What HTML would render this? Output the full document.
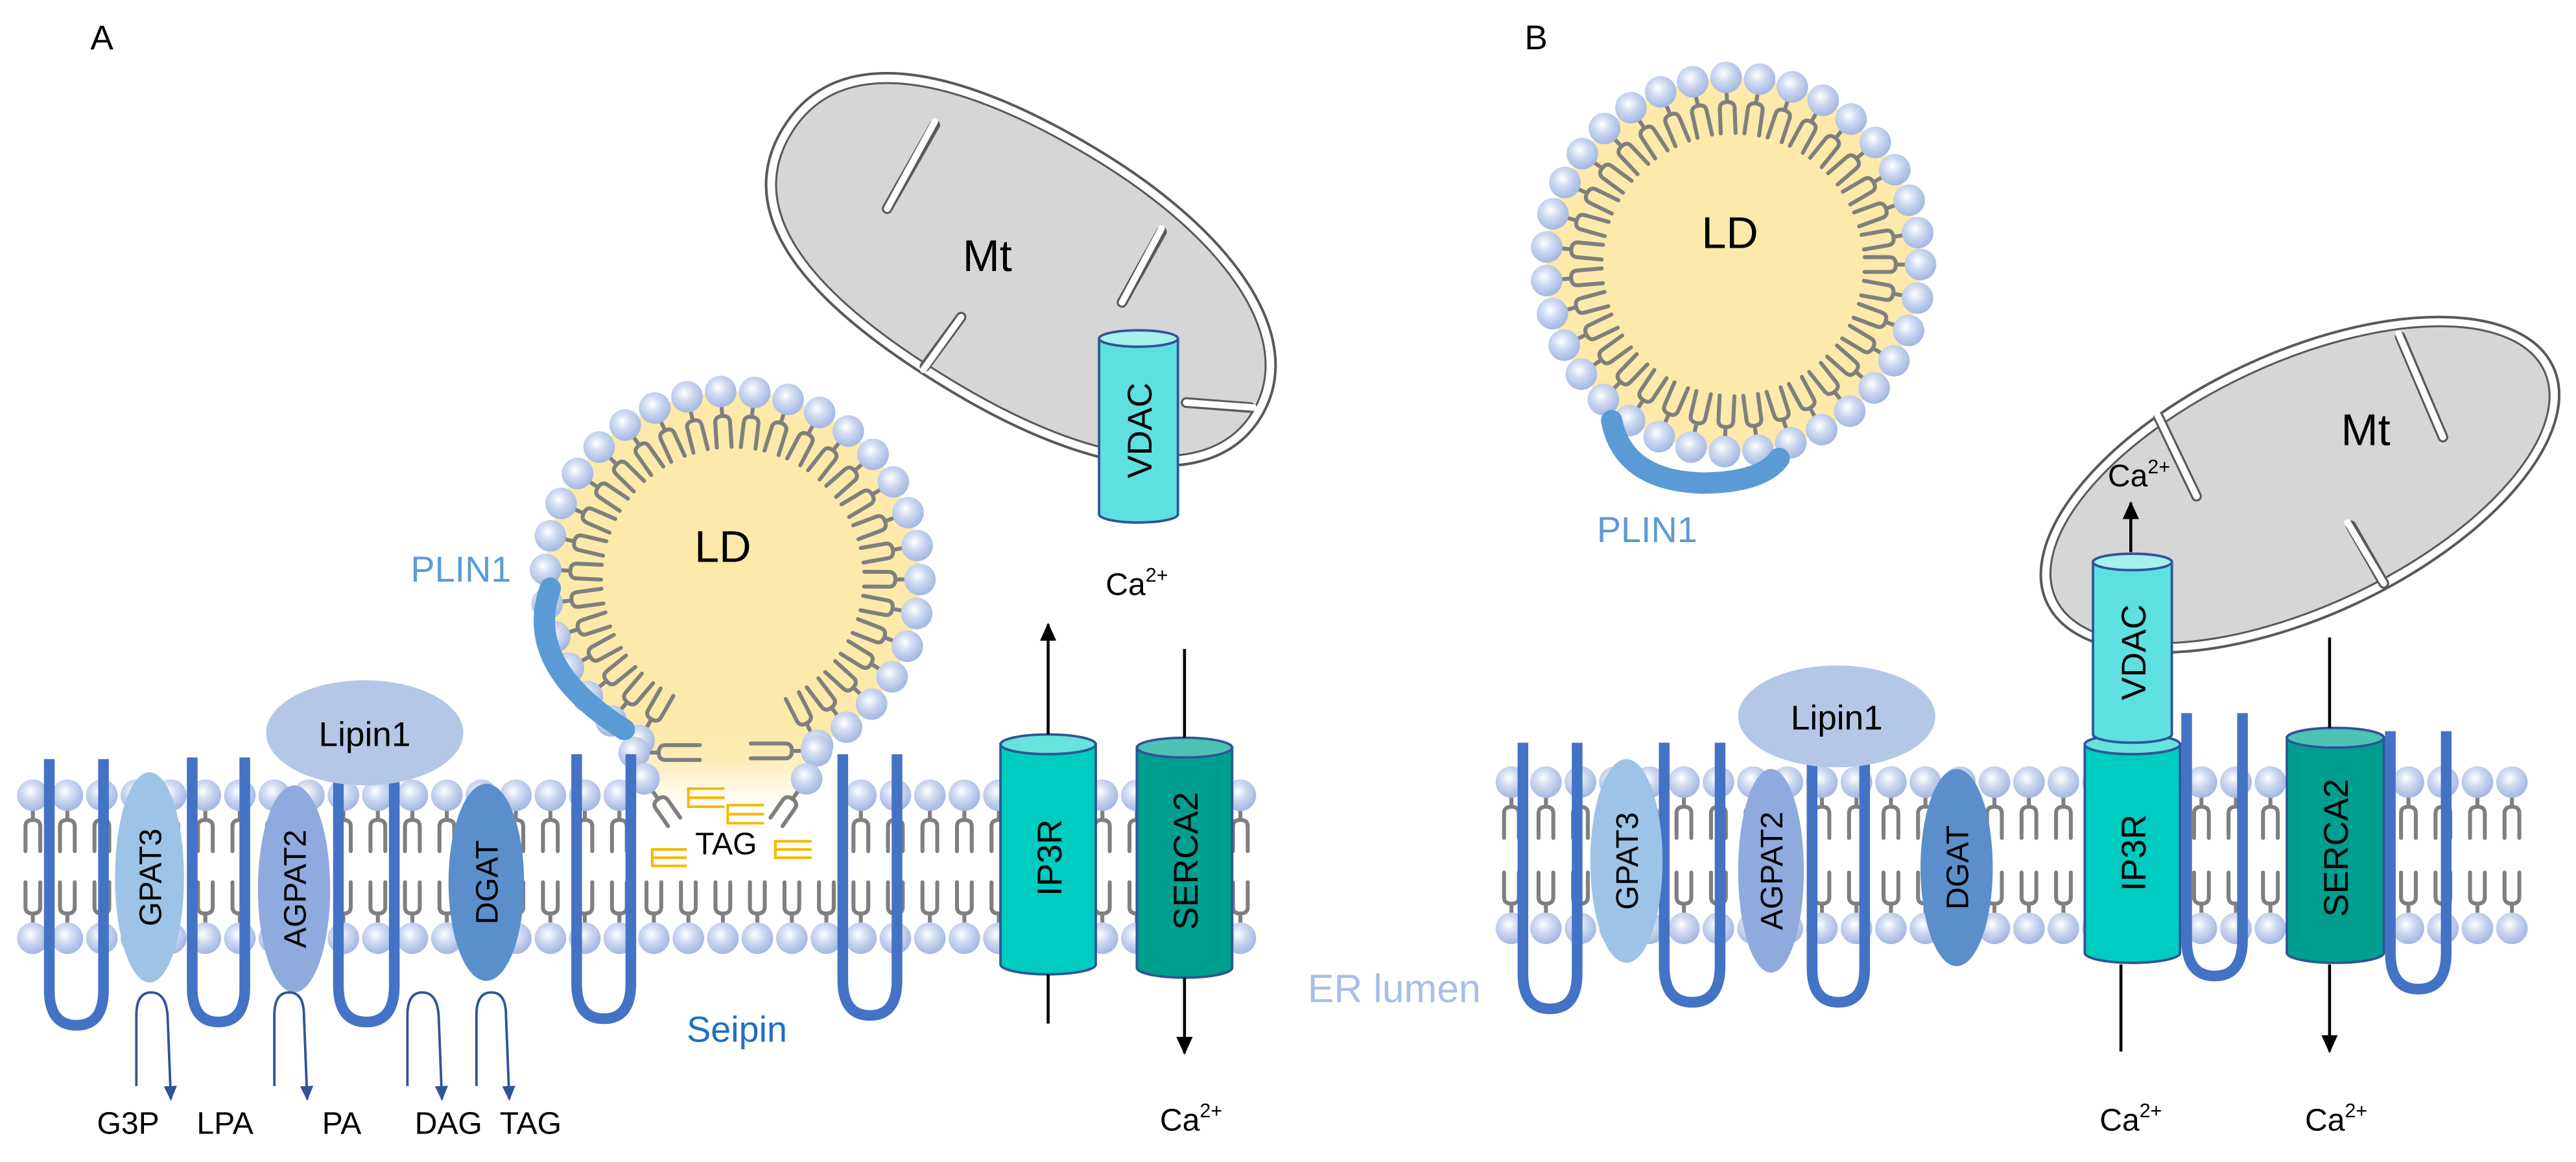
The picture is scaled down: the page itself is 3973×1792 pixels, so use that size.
<!DOCTYPE html>
<html><head><meta charset="utf-8"><style>
html,body{margin:0;padding:0;background:#fff;}
svg{display:block;}
text{font-family:"Liberation Sans",Arial,sans-serif;}
</style></head><body>
<svg id="s" xmlns="http://www.w3.org/2000/svg" width="3973" height="1792" viewBox="0 0 1568 707.2">
<defs>
<radialGradient id="hg" cx="42%" cy="38%" r="60%">
<stop offset="0" stop-color="#ffffff"/><stop offset="0.45" stop-color="#cfdaf1"/><stop offset="1" stop-color="#a6b9e3"/>
</radialGradient>
<linearGradient id="neck" x1="0" y1="0" x2="0" y2="1">
<stop offset="0" stop-color="#fde9a9"/><stop offset="0.5" stop-color="#fdedbb" stop-opacity="0.8"/><stop offset="1" stop-color="#fff" stop-opacity="0"/>
</linearGradient>
<marker id="ab" markerWidth="9" markerHeight="8" refX="8" refY="4" orient="auto" markerUnits="userSpaceOnUse" viewBox="0 0 9 8"><path d="M0,0 L9,4 L0,8 Z" fill="#2f5597"/></marker>
<marker id="ak" markerWidth="11" markerHeight="10" refX="10" refY="5" orient="auto" markerUnits="userSpaceOnUse" viewBox="0 0 11 10"><path d="M0,0 L11,5 L0,10 Z" fill="#000"/></marker>
</defs>

<!-- Mitochondria -->
<g transform="rotate(31 622 166)">
<path d="M452,166 C452,100 530,78 622,78 C720,78 792,110 792,166 C792,222 720,250 622,250 C530,250 452,232 452,166 Z" fill="#fff" stroke="#595959" stroke-width="1.6"/>
<path d="M458,166 C458,105 532,84 622,84 C716,84 786,114 786,166 C786,218 716,244 622,244 C532,244 458,227 458,166 Z" fill="#d6d6d6" stroke="#595959" stroke-width="1.2"/>
</g>
<g fill="none" stroke-linecap="round">
<g stroke="#595959" stroke-width="6.5">
<path d="M569,76 L540,127"/><path d="M707,141 L683,184"/><path d="M563,223 L585,193"/><path d="M761,248 L722,245"/>
</g>
<g stroke="#fff" stroke-width="4">
<path d="M569,74 L540,127"/><path d="M707,139 L683,184"/><path d="M562,225 L585,193"/><path d="M763,248 L722,245"/>
</g>
</g>
<g transform="rotate(-25 1400 295)">
<ellipse cx="1400" cy="295" rx="170" ry="80" fill="#fff" stroke="#595959" stroke-width="1.6"/>
<ellipse cx="1400" cy="295" rx="164" ry="74" fill="#d6d6d6" stroke="#595959" stroke-width="1.2"/>
</g>
<g fill="none" stroke-linecap="round">
<g stroke="#595959" stroke-width="6.5">
<path d="M1314,254 L1337,302"/><path d="M1461,205 L1487,266"/><path d="M1431,320 L1451,355"/>
</g>
<g stroke="#fff" stroke-width="4">
<path d="M1313,252 L1337,302"/><path d="M1460,203 L1487,266"/><path d="M1429,318 L1451,355"/>
</g>
</g>
<text x="601" y="165" font-size="27" text-anchor="middle">Mt</text>
<text x="1440" y="271" font-size="27" text-anchor="middle">Mt</text>

<!-- LD fills -->
<circle cx="446" cy="352" r="114" fill="#fde9a9"/>
<path d="M385,440 L498,440 L492,472 L480,500 L405,500 L390,472 Z" fill="url(#neck)"/>
<circle cx="1055" cy="161" r="114" fill="#fde9a9"/>

<g id="lip"></g>

<!-- Seipin loops -->
<g fill="none" stroke="#4472c4" stroke-width="6.5" stroke-linecap="butt" id="loops"></g>

<!-- Panel A enzymes -->
<ellipse cx="91" cy="534" rx="21" ry="64" fill="#9dc3e6"/>
<ellipse cx="179" cy="541" rx="22" ry="63" fill="#8faadc"/>
<ellipse cx="296" cy="537" rx="23" ry="60" fill="#5b8fcb"/>
<ellipse cx="222" cy="446" rx="60" ry="32" fill="#b4c7e7"/>
<text x="222" y="454" font-size="21" text-anchor="middle">Lipin1</text>
<text transform="translate(98,534) rotate(-90)" font-size="19" text-anchor="middle">GPAT3</text>
<text transform="translate(186,541) rotate(-90)" font-size="19" text-anchor="middle">AGPAT2</text>
<text transform="translate(303,537) rotate(-90)" font-size="19" text-anchor="middle">DGAT</text>

<!-- Panel B enzymes -->
<ellipse cx="990" cy="524" rx="22" ry="62" fill="#9dc3e6"/>
<ellipse cx="1078" cy="530" rx="20" ry="62" fill="#8faadc"/>
<ellipse cx="1191" cy="528" rx="22" ry="60" fill="#5b8fcb"/>
<ellipse cx="1118" cy="436" rx="60" ry="31" fill="#b4c7e7"/>
<text x="1118" y="444" font-size="21" text-anchor="middle">Lipin1</text>
<text transform="translate(997,524) rotate(-90)" font-size="19" text-anchor="middle">GPAT3</text>
<text transform="translate(1085,530) rotate(-90)" font-size="19" text-anchor="middle">AGPAT2</text>
<text transform="translate(1198,528) rotate(-90)" font-size="19" text-anchor="middle">DGAT</text>

<!-- PLIN1 -->
<path d="M335,358 Q318,405 380,444" fill="none" stroke="#5b9bd5" stroke-width="13" stroke-linecap="round"/>
<text x="250" y="354" font-size="22" fill="#5b9bd5">PLIN1</text>
<path d="M981,256 Q988,292 1035,294 Q1072,294 1083,279" fill="none" stroke="#5b9bd5" stroke-width="13" stroke-linecap="round"/>
<text x="972" y="330" font-size="22" fill="#5b9bd5">PLIN1</text>

<text x="440" y="342" font-size="27" text-anchor="middle">LD</text>
<text x="1053" y="151" font-size="27" text-anchor="middle">LD</text>

<!-- TAG marks -->
<g fill="none" stroke="#f5b800" stroke-width="1.6" id="tagm"></g>
<text x="442" y="520" font-size="19" text-anchor="middle">TAG</text>

<!-- Cylinders -->
<g stroke="#2f5597" stroke-width="1.5">
<path d="M609,453 V587 A29,6 0 0 0 667,587 V453 Z" fill="#00cbc0"/><ellipse cx="638" cy="453" rx="29" ry="6" fill="#66e3dc"/>
<path d="M692,455 V589 A29,6 0 0 0 750,589 V455 Z" fill="#009e8e"/><ellipse cx="721" cy="455" rx="29" ry="6" fill="#4fc2b6"/>
<path d="M669,206 V313 A24,5 0 0 0 717,313 V206 Z" fill="#5fe0e0"/><ellipse cx="693" cy="206" rx="24" ry="5" fill="#a6f0ee"/>
<path d="M1269,453 V580 A29,6 0 0 0 1327,580 V453 Z" fill="#00cbc0"/><ellipse cx="1298" cy="453" rx="29" ry="6" fill="#66e3dc"/>
<path d="M1274,342 V447 A24,5 0 0 0 1322,447 V342 Z" fill="#5fe0e0"/><ellipse cx="1298" cy="342" rx="24" ry="5" fill="#a6f0ee"/>
<path d="M1392,449 V580 A29.5,6 0 0 0 1451,580 V449 Z" fill="#009e8e"/><ellipse cx="1421.5" cy="449" rx="29.5" ry="6" fill="#4fc2b6"/>
</g>
<text transform="translate(646,522) rotate(-90)" font-size="21" text-anchor="middle">IP3R</text>
<text transform="translate(729,524) rotate(-90)" font-size="21" text-anchor="middle">SERCA2</text>
<text transform="translate(701,262) rotate(-90)" font-size="21" text-anchor="middle">VDAC</text>
<text transform="translate(1306,519) rotate(-90)" font-size="21" text-anchor="middle">IP3R</text>
<text transform="translate(1306,397) rotate(-90)" font-size="21" text-anchor="middle">VDAC</text>
<text transform="translate(1429,516) rotate(-90)" font-size="21" text-anchor="middle">SERCA2</text>

<!-- Ca arrows -->
<g stroke="#000" stroke-width="1.8" fill="none">
<line x1="638" y1="447" x2="638" y2="380" marker-end="url(#ak)"/>
<line x1="638" y1="593" x2="638" y2="623"/>
<line x1="721" y1="395" x2="721" y2="449"/>
<line x1="721" y1="595" x2="721" y2="641" marker-end="url(#ak)"/>
<line x1="1297" y1="336" x2="1297" y2="306" marker-end="url(#ak)"/>
<line x1="1291" y1="587" x2="1291" y2="640"/>
<line x1="1418" y1="388" x2="1418" y2="443"/>
<line x1="1418" y1="587" x2="1418" y2="640" marker-end="url(#ak)"/>
</g>
<text x="692" y="362" font-size="19" text-anchor="middle">Ca<tspan font-size="12" dy="-8">2+</tspan></text>
<text x="1302" y="296" font-size="19" text-anchor="middle">Ca<tspan font-size="12" dy="-8">2+</tspan></text>
<text x="725" y="688" font-size="19" text-anchor="middle">Ca<tspan font-size="12" dy="-8">2+</tspan></text>
<text x="1297" y="688" font-size="19" text-anchor="middle">Ca<tspan font-size="12" dy="-8">2+</tspan></text>
<text x="1422" y="688" font-size="19" text-anchor="middle">Ca<tspan font-size="12" dy="-8">2+</tspan></text>

<!-- metabolic arrows -->
<g fill="none" stroke="#2f5597" stroke-width="1.5">
<path d="M83,661 V618 Q83,604 92,604 Q101,604 102,618 L104,669" marker-end="url(#ab)"/>
<path d="M167,661 V618 Q167,604 176,604 Q185,604 185,618 L187,669" marker-end="url(#ab)"/>
<path d="M248,661 V618 Q248,604 257,604 Q266,604 267,618 L269,669" marker-end="url(#ab)"/>
<path d="M290,661 V618 Q290,604 299,604 Q308,604 308,618 L310,669" marker-end="url(#ab)"/>
</g>
<g font-size="19" text-anchor="middle">
<text x="78" y="690">G3P</text><text x="137" y="690">LPA</text><text x="208" y="690">PA</text><text x="273" y="690">DAG</text><text x="323" y="690">TAG</text>
</g>

<text x="418" y="634" font-size="22" fill="#1f6fc0">Seipin</text>
<text x="796" y="610" font-size="24" fill="#a9bde6">ER lumen</text>
<text x="62" y="30" font-size="21" text-anchor="middle">A</text>
<text x="935" y="30" font-size="21" text-anchor="middle">B</text>

<script>
(function(){
var NS="http://www.w3.org/2000/svg";
var lip=document.getElementById('lip');
var tails=document.createElementNS(NS,'g');tails.setAttribute('fill','none');tails.setAttribute('stroke','#7f7f7f');tails.setAttribute('stroke-width','2.4');tails.setAttribute('stroke-linecap','round');
var heads=document.createElementNS(NS,'g');
lip.appendChild(tails);lip.appendChild(heads);
function L(x,y,dir,len){
 len=len||36;
 var p=document.createElementNS(NS,'path');
 p.setAttribute('d','M0,9 V15 M-4.5,'+len+' V19 Q-4.5,15 0,15 Q4.5,15 4.5,19 V'+len);
 p.setAttribute('transform','translate('+x+','+y+') rotate('+(dir-90)+')');
 tails.appendChild(p);
 var c=document.createElementNS(NS,'circle');
 c.setAttribute('cx',x);c.setAttribute('cy',y);c.setAttribute('r',9.6);c.setAttribute('fill','url(#hg)');
 heads.appendChild(c);
}
var x;
for(x=20;x<=772;x+=21){ if(!(x>392&&x<505)) L(x,484,90,34); L(x,571,-90,34); }
for(x=920;x<=1545;x+=21){ L(x,476,90,34); L(x,565,-90,34); }
var cx=446,cy=352,r=114,a;
for(a=120;a<=423.5;a+=10.45){var t=a*Math.PI/180;L(cx+r*Math.cos(t),cy+r*Math.sin(t),a+180,34);}
L(386,458,0,40);L(497,457,180,40);L(392,474,55,32);L(491,474,125,32);
cx=1055;cy=161;
for(a=0;a<360;a+=10.3){var t2=a*Math.PI/180;L(cx+r*Math.cos(t2),cy+r*Math.sin(t2),a+180,34);}
var lg=document.getElementById('loops');
function U(x1,x2,top,bot){var m=(x1+x2)/2,w=(x2-x1)/2;var p=document.createElementNS(NS,'path');
 p.setAttribute('d','M'+x1+','+top+' V'+(bot-w*1.3)+' Q'+x1+','+bot+' '+m+','+bot+' Q'+x2+','+bot+' '+x2+','+(bot-w*1.3)+' V'+top);lg.appendChild(p);}
U(30,63,462,624);U(117,149,461,622);U(206,240,476,622);U(351,384,459,620);U(513,546,459,618);
U(927,960,452,614);U(1013,1047,452,610);U(1103,1135,452,610);U(1331,1365,434,594);U(1455,1489,445,602);
var tg=document.getElementById('tagm');
function E(x,y,w,h){var p=document.createElementNS(NS,'path');p.setAttribute('d','M'+(x+w)+','+y+' H'+x+' V'+(y+h)+' H'+(x+w)+' M'+x+','+(y+h/2)+' H'+(x+w));tg.appendChild(p);}
E(419,480,22,11);E(443,490,22,11);E(397,517,21,10);E(472,512,22,10);
})();
</script>
</svg>
</body></html>
